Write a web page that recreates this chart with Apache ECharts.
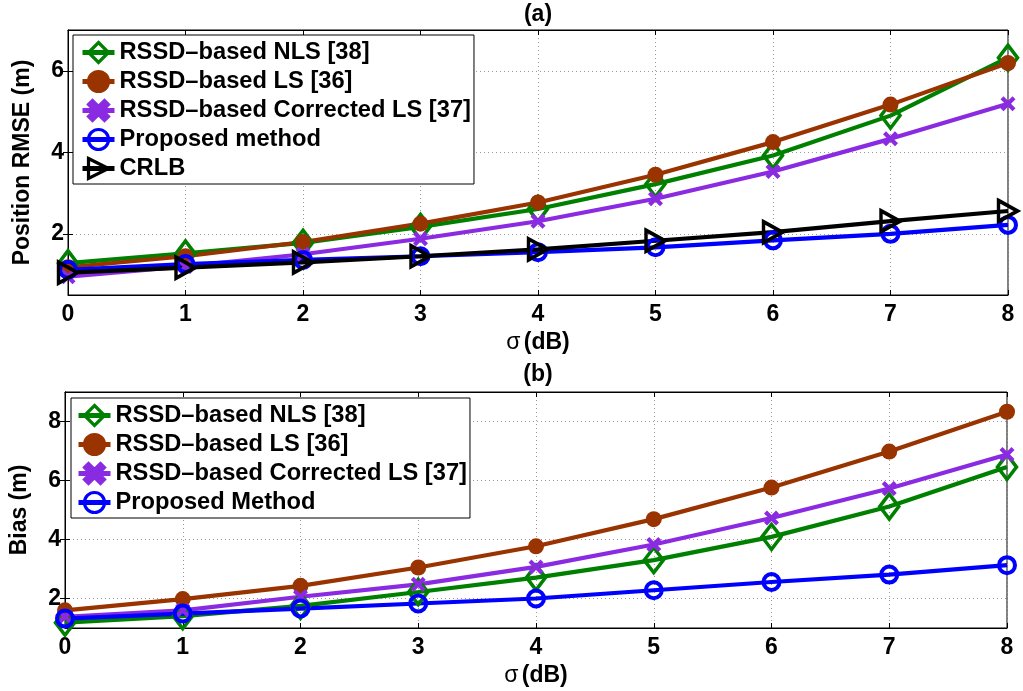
<!DOCTYPE html>
<html>
<head>
<meta charset="utf-8">
<script src="https://cdn.jsdelivr.net/npm/echarts@6/dist/echarts.min.js"></script>
<style>html,body{margin:0;padding:0;background:#fff}#c{width:1023px;height:691px}</style>
</head>
<body>
<div id="c"></div>
<script>
// ---- data ----
const sigma = [0, 1, 2, 3, 4, 5, 6, 7, 8];
const yTicksA = [2, 4, 6];
const yTicksB = [2, 4, 6, 8];
const namesA = ['RSSD\u2013based NLS [38]', 'RSSD\u2013based LS [36]', 'RSSD\u2013based Corrected LS [37]', 'Proposed method', 'CRLB'];
const namesB = ['RSSD\u2013based NLS [38]', 'RSSD\u2013based LS [36]', 'RSSD\u2013based Corrected LS [37]', 'Proposed Method'];
// (a) Position RMSE (m)
const rmseNLS  = [1.28, 1.52, 1.78, 2.17, 2.61, 3.22, 3.92, 4.90, 6.32];
const rmseLS   = [1.18, 1.45, 1.80, 2.25, 2.77, 3.45, 4.25, 5.17, 6.19];
const rmseCLS  = [0.95, 1.20, 1.50, 1.88, 2.31, 2.86, 3.53, 4.33, 5.19];
const rmseProp = [1.12, 1.26, 1.36, 1.45, 1.55, 1.67, 1.84, 2.00, 2.22];
const rmseCRLB = [1.05, 1.17, 1.30, 1.45, 1.62, 1.83, 2.04, 2.31, 2.56];
// (b) Bias (m)
const biasNLS  = [1.18, 1.40, 1.75, 2.22, 2.71, 3.30, 4.09, 5.12, 6.46];
const biasLS   = [1.60, 1.98, 2.43, 3.05, 3.77, 4.69, 5.76, 6.98, 8.33];
const biasCLS  = [1.38, 1.60, 2.06, 2.48, 3.07, 3.83, 4.73, 5.73, 6.88];
const biasProp = [1.32, 1.49, 1.66, 1.83, 2.00, 2.28, 2.56, 2.81, 3.13];

// ---- styles ----
const FONT = '"Liberation Sans", Arial, Helvetica, sans-serif';
const FS = 23;
const LFS = 23.7;
const C = {green:'#008000', brown:'#993300', purple:'#8a2be2', blue:'#0000ff', black:'#000000'};
const XPATH = 'path://M0,2 L2,0 L5,3 L8,0 L10,2 L7,5 L10,8 L8,10 L5,7 L2,10 L0,8 L3,5 Z';
const TRI = 'path://M0,0 L10,5 L0,10 Z';
const LW = 4.2;

function pairs(v){ return sigma.map((x,i)=>[x, v[i]]); }

function mk(name, vals, idx, kind){
  const base = {name, type:'line', xAxisIndex: idx*2, yAxisIndex: idx*2, data: pairs(vals),
    z: 3, emphasis:{disabled:true}, animation:false};
  if(kind==='nls') Object.assign(base,{symbol:'diamond', symbolSize:[19,25], color:C.green,
    lineStyle:{width:LW,color:C.green}, itemStyle:{color:'rgba(0,0,0,0)', borderColor:C.green, borderWidth:3.6}});
  if(kind==='ls') Object.assign(base,{symbol:'circle', symbolSize:16, color:C.brown,
    lineStyle:{width:LW,color:C.brown}, itemStyle:{color:C.brown, borderColor:C.brown, borderWidth:0}});
  if(kind==='cls') Object.assign(base,{symbol:XPATH, symbolSize:15, color:C.purple,
    lineStyle:{width:LW,color:C.purple}, itemStyle:{color:C.purple, borderColor:C.purple, borderWidth:0}});
  if(kind==='prop') Object.assign(base,{symbol:'circle', symbolSize:16, color:C.blue,
    lineStyle:{width:LW,color:C.blue}, itemStyle:{color:'rgba(0,0,0,0)', borderColor:C.blue, borderWidth:4}});
  if(kind==='crlb') Object.assign(base,{symbol:TRI, symbolSize:[19,21], color:C.black,
    lineStyle:{width:LW,color:C.black}, itemStyle:{color:'rgba(0,0,0,0)', borderColor:C.black, borderWidth:3.6}});
  return base;
}

const labelStyle = {color:'#000', fontFamily:FONT, fontWeight:'bold', fontSize:FS};
const splitStyle = {show:true, lineStyle:{color:'#9a9a9a', type:[1,3], width:1}};

function xAxes(gi){
  return [
    {type:'value', gridIndex:gi, position:'bottom', min:0, max:8, interval:1,
     axisLine:{lineStyle:{color:'#000', width:1}}, axisTick:{inside:true, length:5, lineStyle:{color:'#000'}},
     axisLabel:Object.assign({margin:8}, labelStyle), splitLine:splitStyle,
     name:'{s|\u03c3} {b|(dB)}', nameLocation:'middle', nameGap:36,
     nameTextStyle:{rich:{s:{fontFamily:FONT, fontSize:FS, color:'#000'}, b:{fontFamily:FONT, fontSize:FS, fontWeight:'bold', color:'#000'}}}},
    {type:'value', gridIndex:gi, position:'top', min:0, max:8, interval:1,
     axisLine:{lineStyle:{color:'#000', width:1}}, axisTick:{inside:true, length:5, lineStyle:{color:'#000'}},
     axisLabel:{show:false}, splitLine:{show:false}}
  ];
}
function yAxes(gi, mn, mx, ticks, name){
  return [
    {type:'value', gridIndex:gi, position:'left', min:mn, max:mx,
     axisLine:{show:true, lineStyle:{color:'#000', width:1}}, axisTick:{show:true, inside:true, length:5, lineStyle:{color:'#000'}, customValues:ticks},
     axisLabel:Object.assign({margin:4, customValues:ticks}, labelStyle), splitLine:splitStyle,
     name:name, nameLocation:'middle', nameGap:34, nameRotate:90,
     nameTextStyle:{fontFamily:FONT, fontSize:FS, fontWeight:'bold', color:'#000'}},
    {type:'value', gridIndex:gi, position:'right', min:mn, max:mx,
     axisLine:{show:true, lineStyle:{color:'#000', width:1}}, axisTick:{show:true, inside:true, length:5, lineStyle:{color:'#000'}, customValues:ticks},
     axisLabel:{show:false}, splitLine:{show:false}}
  ];
}

const legendBase = {orient:'vertical', backgroundColor:'#fff', borderColor:'#000', borderWidth:1,
  itemWidth:32, itemHeight:25, itemGap:0, selectedMode:false,
  lineStyle:{width:5}, itemStyle:{borderWidth:3.2},
  textStyle:{fontFamily:FONT, fontSize:LFS, fontWeight:'bold', color:'#000', lineHeight:29}};

const option = {
  animation:false,
  backgroundColor:'#fff',
  grid:[
    {left:68, right:15, top:30, height:265, show:true, borderColor:'#000', borderWidth:1, outerBoundsMode:'none', containLabel:false},
    {left:65, right:16, top:392, height:236, show:true, borderColor:'#000', borderWidth:1, outerBoundsMode:'none', containLabel:false}
  ],
  xAxis:[...xAxes(0), ...xAxes(1)],
  yAxis:[...yAxes(0, 0.5, 7, yTicksA, 'Position RMSE (m)'), ...yAxes(1, 1, 9, yTicksB, 'Bias (m)')],
  legend:[
    Object.assign({}, legendBase, {left:73, top:35, padding:[3,3,1,7], data:namesA}),
    Object.assign({}, legendBase, {left:71, top:398, padding:[3,3,1,5], data:namesB})
  ],
  graphic:[
    {type:'text', x:538, y:15, style:{text:'(a)', textAlign:'center', textVerticalAlign:'middle', font:'bold 23px '+FONT, fill:'#000'}},
    {type:'text', x:538, y:375, style:{text:'(b)', textAlign:'center', textVerticalAlign:'middle', font:'bold 23px '+FONT, fill:'#000'}}
  ],
  series:[
    mk(namesA[0], rmseNLS, 0, 'nls'),
    mk(namesA[1], rmseLS, 0, 'ls'),
    mk(namesA[2], rmseCLS, 0, 'cls'),
    mk(namesA[3], rmseProp, 0, 'prop'),
    mk(namesA[4], rmseCRLB, 0, 'crlb'),
    mk(namesB[0], biasNLS, 1, 'nls'),
    mk(namesB[1], biasLS, 1, 'ls'),
    mk(namesB[2], biasCLS, 1, 'cls'),
    mk(namesB[3], biasProp, 1, 'prop')
  ]
};
const chart = echarts.init(document.getElementById('c'), null, {renderer:'canvas'});
chart.setOption(option);
</script>
</body>
</html>
